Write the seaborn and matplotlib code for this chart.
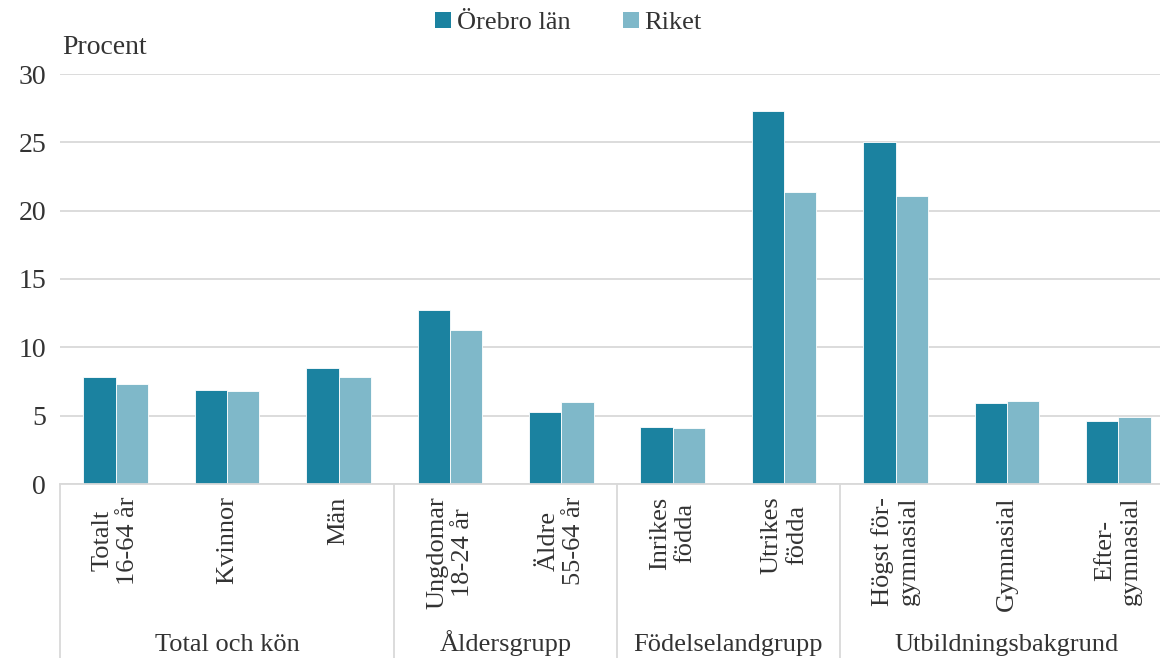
import pandas as pd
import numpy as np
import matplotlib
matplotlib.use('Agg')
import matplotlib.pyplot as plt
import matplotlib.transforms as mtransforms
from matplotlib.patches import Patch
import seaborn as sns

# ----------------- data -----------------
kategorier = ['Totalt\n16-64 år', 'Kvinnor', 'Män',
              'Ungdomar\n18-24 år', 'Äldre\n55-64 år',
              'Inrikes\nfödda', 'Utrikes\nfödda',
              'Högst för-\ngymnasial', 'Gymnasial', 'Efter-\ngymnasial']
orebro = [7.8, 6.9, 8.5, 12.7, 5.3, 4.2, 27.3, 25.0, 5.9, 4.6]
riket = [7.3, 6.8, 7.8, 11.3, 6.0, 4.1, 21.4, 21.1, 6.1, 4.9]
serier = ['Örebro län', 'Riket']

grupper = ['Total och kön', 'Åldersgrupp', 'Födelselandgrupp', 'Utbildningsbakgrund']
grupp_antal = [3, 2, 2, 3]

df = pd.DataFrame({
    'kategori': kategorier * 2,
    'serie': [serier[0]] * len(kategorier) + [serier[1]] * len(kategorier),
    'procent': orebro + riket,
})

# ----------------- style -----------------
sns.set_theme(style='white')
plt.rcParams['font.family'] = ['Liberation Serif', 'DejaVu Serif']
textfarg = '#333333'
gra = '#d9d9d9'
farger = ['#1b82a0', '#7fb8c9']

fig = plt.figure(figsize=(11.6, 6.58), dpi=100)
ax = fig.add_axes([60 / 1160, 174 / 658, 1114 / 1160, 410 / 658])

sns.barplot(data=df, x='kategori', y='procent', hue='serie', palette=farger,
            saturation=1, width=0.58, gap=0, errorbar=None, ax=ax,
            edgecolor='white', linewidth=0.6)

ax.set_ylim(0, 30)
ax.set_xlim(-0.5, len(kategorier) - 0.5)
ax.set_yticks(np.arange(0, 31, 5))
ax.yaxis.grid(True, color=gra, linewidth=1.3)
ax.set_axisbelow(True)
for s in ['top', 'right', 'left']:
    ax.spines[s].set_visible(False)
ax.spines['bottom'].set_color(gra)
ax.spines['bottom'].set_linewidth(1.3)
ax.set_xlabel('')
ax.set_ylabel('')
ax.tick_params(axis='y', length=0, pad=10, labelsize=20, labelcolor=textfarg)
ax.tick_params(axis='x', length=0, pad=9)
ax.set_xticks(range(len(kategorier)))
ax.set_xticklabels(kategorier, rotation=90, va='top', ha='center',
                   multialignment='center', fontsize=19, color=textfarg,
                   linespacing=1.2)

# grupprubriker och skiljelinjer under x-axeln
trans = mtransforms.blended_transform_factory(ax.transData, ax.transAxes)
start = -0.5
ax.plot([start, start], [0, -0.43], color=gra, lw=1.3, transform=trans, clip_on=False)
for namn, n in zip(grupper, grupp_antal):
    slut = start + n
    ax.plot([slut, slut], [0, -0.43], color=gra, lw=1.3, transform=trans, clip_on=False)
    ax.text((start + slut) / 2, -0.407, namn, transform=trans, ha='center',
            va='baseline', fontsize=19, color=textfarg)
    start = slut

if ax.get_legend() is not None:
    ax.get_legend().remove()
handles = [Patch(facecolor=f, edgecolor='none') for f in farger]
fig.legend(handles, serier, loc='center', bbox_to_anchor=(0.49, 1 - 23 / 658),
           ncol=2, frameon=False, fontsize=19, handlelength=0.6, handleheight=0.6,
           handletextpad=0.2, columnspacing=2.0, labelcolor=textfarg)

fig.text(62 / 1160, 1 - 47 / 658, 'Procent', fontsize=20, color=textfarg,
         ha='left', va='center')

fig.savefig('out.png', dpi=100)
